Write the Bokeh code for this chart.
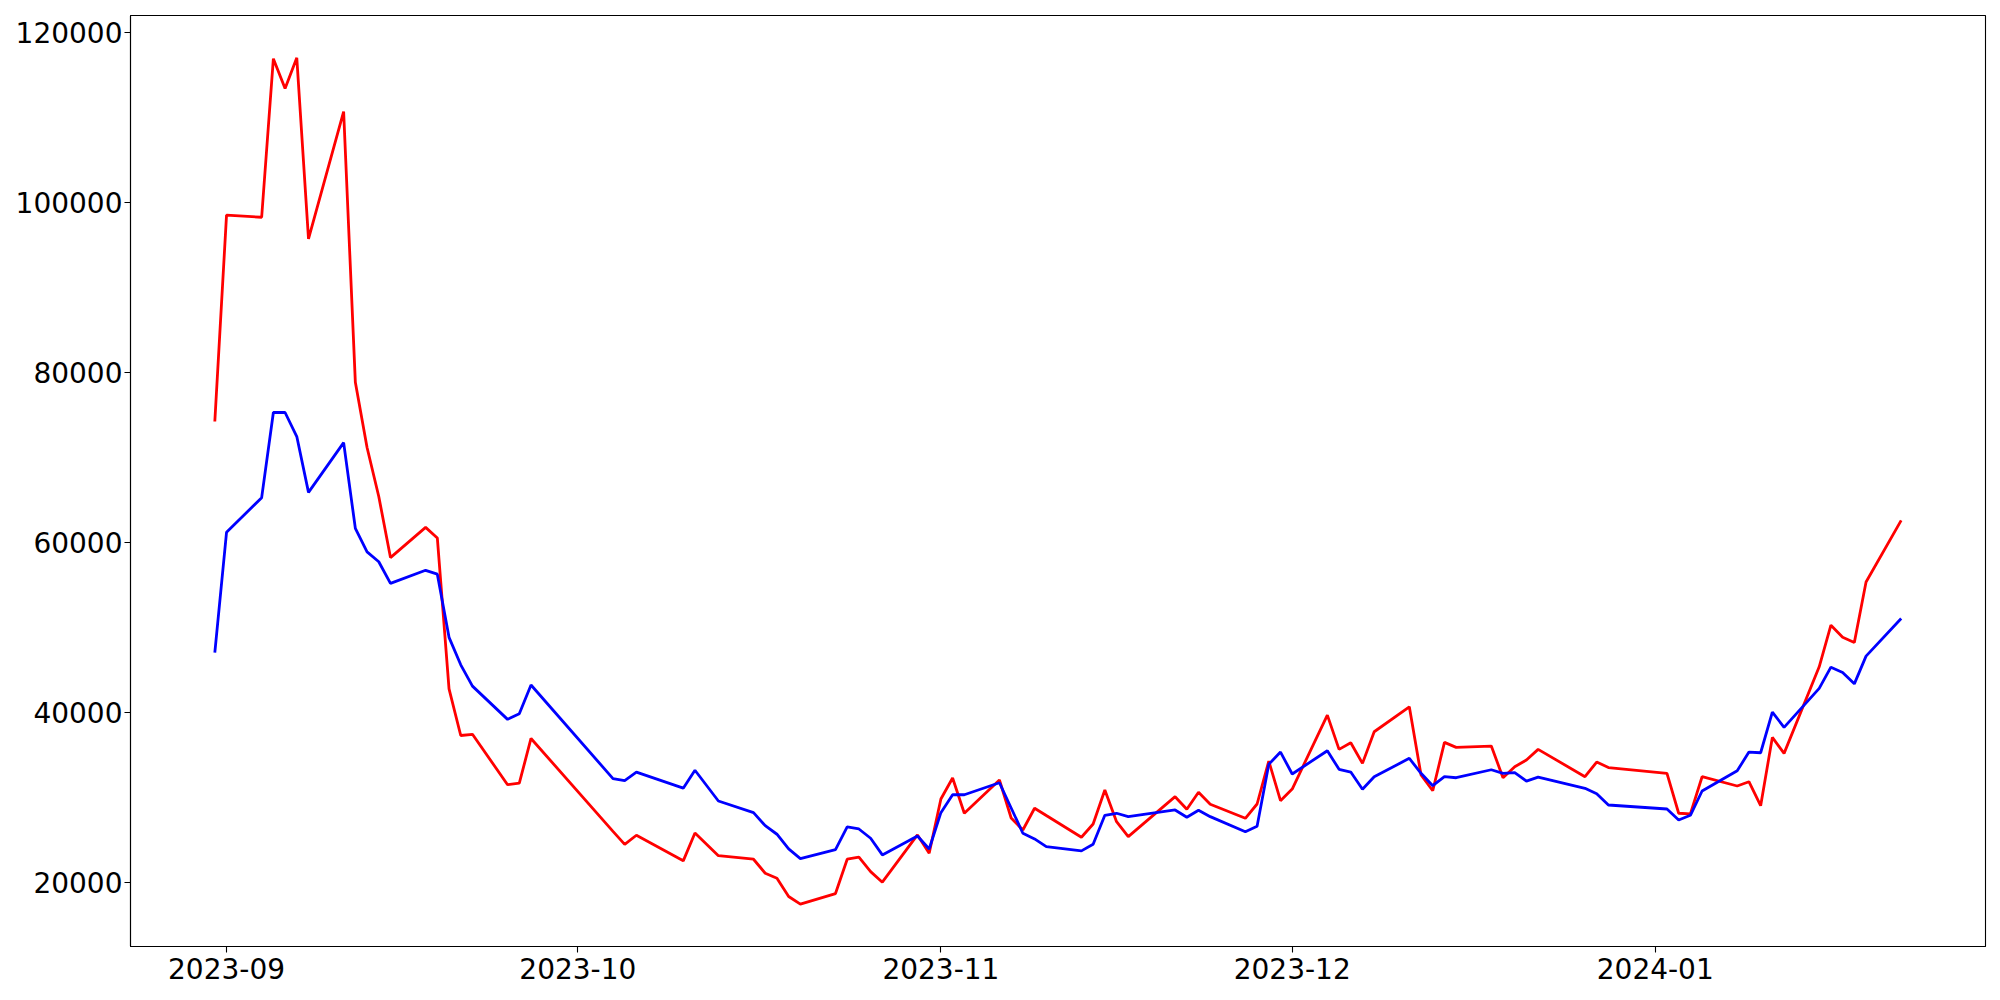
import pandas as pd
from bokeh.plotting import figure
from bokeh.models import Range1d, FixedTicker, DatetimeTickFormatter, BasicTickFormatter, ColumnDataSource
from bokeh.embed import file_html
from bokeh.resources import INLINE

dates = [
    "2023-08-31", "2023-09-01", "2023-09-04", "2023-09-05", "2023-09-06", "2023-09-07", "2023-09-08",
    "2023-09-11", "2023-09-12", "2023-09-13", "2023-09-14", "2023-09-15",
    "2023-09-18", "2023-09-19", "2023-09-20", "2023-09-21", "2023-09-22",
    "2023-09-25", "2023-09-26", "2023-09-27",
    "2023-10-04", "2023-10-05", "2023-10-06",
    "2023-10-10", "2023-10-11", "2023-10-13",
    "2023-10-16", "2023-10-17", "2023-10-18", "2023-10-19", "2023-10-20",
    "2023-10-23", "2023-10-24", "2023-10-25", "2023-10-26", "2023-10-27",
    "2023-10-30", "2023-10-31", "2023-11-01", "2023-11-02", "2023-11-03",
    "2023-11-06", "2023-11-07", "2023-11-08", "2023-11-09", "2023-11-10",
    "2023-11-13", "2023-11-14", "2023-11-15", "2023-11-16", "2023-11-17",
    "2023-11-21", "2023-11-22", "2023-11-23", "2023-11-24",
    "2023-11-27", "2023-11-28", "2023-11-29", "2023-11-30", "2023-12-01",
    "2023-12-04", "2023-12-05", "2023-12-06", "2023-12-07", "2023-12-08",
    "2023-12-11", "2023-12-12", "2023-12-13", "2023-12-14", "2023-12-15",
    "2023-12-18", "2023-12-19", "2023-12-20", "2023-12-21", "2023-12-22",
    "2023-12-26", "2023-12-27", "2023-12-28",
    "2024-01-02", "2024-01-03", "2024-01-04", "2024-01-05",
    "2024-01-08", "2024-01-09", "2024-01-10", "2024-01-11", "2024-01-12",
    "2024-01-15", "2024-01-16", "2024-01-17", "2024-01-18", "2024-01-19",
    "2024-01-22",
]

red_values = [
    74266, 98540, 98300, 116960, 113460, 117060, 95750,
    110730, 78870, 71200, 65440, 58250,
    61800, 60560, 42800, 37310, 37450,
    31520, 31700, 36960,
    26030, 24500, 25570,
    22560, 25840, 23170,
    22750, 21100, 20520, 18360, 17460,
    18710, 22750, 22990, 21290, 20050,
    25610, 23460, 29840, 32310, 28160,
    32070, 27600, 26190, 28750, 27890,
    25340, 26900, 30900, 27170, 25410,
    30110, 28630, 30630, 29220,
    27570, 29250, 34300, 29640, 31010,
    39710, 35680, 36460, 34030, 37750,
    40690, 32660, 30810, 36500, 35910,
    36070, 32340, 33640, 34420, 35680,
    32460, 34190, 33540,
    32860, 28160, 28080, 32460,
    31370, 31870, 29050, 37090, 35210,
    45390, 50290, 48880, 48260, 55380,
    62630,
]

blue_values = [
    47070, 61220, 65300, 75320, 75320, 72490, 65920,
    71780, 61690, 58920, 57760, 55210,
    56750, 56300, 48860, 45630, 43120,
    39210, 39880, 43250,
    32240, 32010, 33000,
    31110, 33220, 29600,
    28230, 26700, 25690, 23960, 22820,
    23880, 26550, 26310, 25220, 23260,
    25490, 23960, 28230, 30340, 30340,
    31750, 28780, 25810, 25140, 24230,
    23730, 24510, 27920, 28160, 27760,
    28550, 27690, 28510, 27760,
    25990, 26630, 33920, 35360, 32780,
    35520, 33330, 33010, 30980, 32460,
    34620, 32860, 31400, 32460, 32340,
    33280, 32860, 32930, 31950, 32420,
    31100, 30460, 29130,
    28660, 27370, 27920, 30780,
    33160, 35360, 35280, 40060, 38270,
    42850, 45350, 44730, 43390, 46650,
    51080,
]

x_tick_dates = ["2023-09-01", "2023-10-01", "2023-11-01", "2023-12-01", "2024-01-01"]
y_ticks = [20000, 40000, 60000, 80000, 100000, 120000]

x = pd.to_datetime(dates)
src = ColumnDataSource(dict(x=x, red=red_values, blue=blue_values))

epoch = pd.Timestamp("1970-01-01")
def to_ms(t):
    return (pd.Timestamp(t) - epoch) / pd.Timedelta(milliseconds=1)

xmin, xmax = to_ms(x.min()), to_ms(x.max())
xpad = 0.05 * (xmax - xmin)
allv = red_values + blue_values
ymin, ymax = min(allv), max(allv)
ypad = 0.05 * (ymax - ymin)

p = figure(width=1992, height=992, x_axis_type="datetime",
           output_backend="svg", toolbar_location=None,
           x_range=Range1d(xmin - xpad, xmax + xpad),
           y_range=Range1d(ymin - ypad, ymax + ypad),
           min_border_left=130, min_border_right=7,
           min_border_top=15, min_border_bottom=46)

p.line("x", "red", source=src, line_color="#ff0000", line_width=2.8)
p.line("x", "blue", source=src, line_color="#0000ff", line_width=2.8)

p.xgrid.visible = False
p.ygrid.visible = False
p.outline_line_color = "black"
p.outline_line_width = 1.1
p.outline_line_alpha = 1.0
p.background_fill_color = "white"
p.border_fill_color = "white"

p.xaxis.ticker = FixedTicker(ticks=[to_ms(d) for d in x_tick_dates])
fmt = "%Y-%m"
p.xaxis.formatter = DatetimeTickFormatter(
    microseconds=fmt, milliseconds=fmt, seconds=fmt, minsec=fmt, minutes=fmt,
    hourmin=fmt, hours=fmt, days=fmt, months=fmt, years=fmt)
p.yaxis.ticker = FixedTicker(ticks=y_ticks)
p.yaxis.formatter = BasicTickFormatter(use_scientific=False)

for ax in (p.xaxis[0], p.yaxis[0]):
    ax.axis_line_color = "black"
    ax.axis_line_width = 1.1
    ax.major_tick_line_color = "black"
    ax.major_tick_line_width = 1.1
    ax.major_tick_in = 0
    ax.major_tick_out = 6
    ax.minor_tick_line_color = None
    ax.major_label_text_font = "DejaVu Sans"
    ax.major_label_text_font_size = "28px"
    ax.major_label_text_color = "black"
p.xaxis[0].major_label_standoff = 5
p.yaxis[0].major_label_standoff = 2

open("out.html", "w").write(file_html(p, INLINE))
